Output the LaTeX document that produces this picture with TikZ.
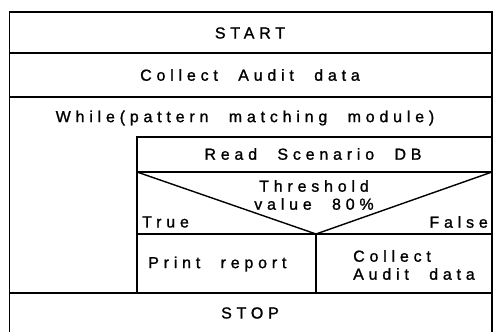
\documentclass[tikz,border=0pt]{standalone}
\usepackage{fontspec}
\setmainfont[LetterSpace=30,WordSpace=2.2,FakeBold=1.2]{Liberation Sans}
\begin{document}
\begin{tikzpicture}[x=1pt,y=-1pt,
  rule/.style={line width=1.4pt,black},
  lbl/.style={font=\fontsize{16}{18}\selectfont,inner sep=0pt}]
\useasboundingbox (0,0) rectangle (493,332);
% outer frame
\draw[rule] (9.5,332) -- (9.5,12) -- (492,12) -- (492,332);
\draw[rule] (9.5,53) -- (492,53);
\draw[rule] (9.5,97) -- (492,97);
\draw[rule] (9.5,293) -- (492,293);
% loop body
\draw[rule] (137,293) -- (137,137) -- (492,137);
\draw[rule] (137,172) -- (492,172);
\draw[rule] (137,234) -- (492,234);
\coordinate (apex) at (316,234);
\draw[rule] (137,172) -- (apex) -- (492,172);
\draw[rule] (apex) -- (316,293);
% labels
\node[lbl] (start) at (250,33) {START};
\node[lbl] (collect) at (250,75) {Collect Audit data};
\node[lbl] (while) at (245,118) {While(pattern matching module)};
\node[lbl] (read) at (313,154) {Read Scenario DB};
\node[lbl] (thr) at (314,186) {Threshold};
\node[lbl] (val) at (314,204) {value 80\%};
\node[lbl,anchor=west] (true) at (142,222) {True};
\node[lbl,anchor=east] (false) at (488,222) {False};
\node[lbl,anchor=west] (print) at (148,264) {Print report};
\node[lbl,anchor=west] (c1) at (353,256) {Collect};
\node[lbl,anchor=west] (c2) at (353,274) {Audit data};
\node[lbl] (stop) at (250,313) {STOP};
\end{tikzpicture}
\end{document}
